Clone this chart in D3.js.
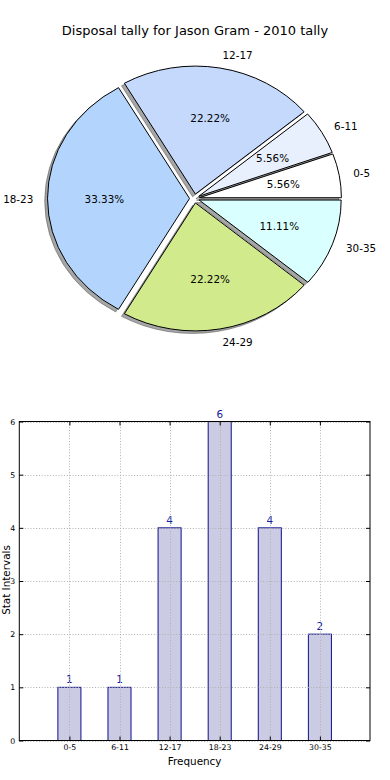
<!DOCTYPE html>
<html>
<head>
<meta charset="utf-8">
<script src="https://cdn.jsdelivr.net/npm/d3@7"></script>
<style>
  html, body { margin: 0; padding: 0; background: #fff; }
  svg { display: block; font-family: "DejaVu Sans", sans-serif; }
</style>
</head>
<body>
<svg id="chart" width="390" height="780"></svg>
<script>
// ---- data ----
const categories = ["0-5", "6-11", "12-17", "18-23", "24-29", "30-35"];
const counts = [1, 1, 4, 6, 4, 2];
const sliceColors = ["#ffffff", "#e8effd", "#c5d9fd", "#b3d5fd", "#d0ea8c", "#d9fffe"];
const yTicks = [0, 1, 2, 3, 4, 5, 6];
const titleText = "Disposal tally for Jason Gram - 2010 tally";
const xLabel = "Frequency";
const yLabel = "Stat Intervals";

(function () {
const svg = d3.select("#chart");

// ---- pie ----
const cx = 194.5, cy = 198.5, rx = 142, ry = 128, explode = 0.035, R = 100;
const total = d3.sum(counts);
const pie = d3.pie().sort(null).value(d => d)
  .startAngle(Math.PI / 2).endAngle(Math.PI / 2 - 2 * Math.PI);
const arcs = pie(counts);
const arc = d3.arc().innerRadius(0).outerRadius(R);

svg.append("text").attr("x", 195).attr("y", 30)
  .attr("text-anchor", "middle").attr("dominant-baseline", "central")
  .attr("font-size", 13).attr("fill", "#000").text(titleText);

function geo(d) {
  const a = (d.startAngle + d.endAngle) / 2;
  const s = Math.sin(a), c = -Math.cos(a);
  return { s, c, ox: explode * rx * s, oy: explode * ry * c };
}

const shadows = svg.append("g");
const wedges = svg.append("g");
const labels = svg.append("g");

arcs.forEach((d, i) => {
  const g = geo(d);
  shadows.append("path")
    .attr("d", arc(d))
    .attr("transform", `translate(${cx + g.ox - 0.02 * rx},${cy + g.oy + 0.02 * ry}) scale(${rx / R},${ry / R})`)
    .attr("fill", "#4d4d4d").attr("fill-opacity", 0.5)
    .attr("stroke", "#4d4d4d").attr("stroke-opacity", 0.5)
    .attr("vector-effect", "non-scaling-stroke").attr("stroke-width", 1);
  wedges.append("path")
    .attr("d", arc(d))
    .attr("transform", `translate(${cx + g.ox},${cy + g.oy}) scale(${rx / R},${ry / R})`)
    .attr("fill", sliceColors[i])
    .attr("stroke", "#000").attr("stroke-width", 1)
    .attr("vector-effect", "non-scaling-stroke");
  labels.append("text")
    .attr("x", cx + g.ox + 1.1 * rx * g.s)
    .attr("y", cy + g.oy + 1.1 * ry * g.c)
    .attr("text-anchor", g.s > 0 ? "start" : "end")
    .attr("dominant-baseline", "central")
    .attr("font-size", 10.4).attr("fill", "#000")
    .text(categories[i]);
  labels.append("text")
    .attr("x", cx + g.ox + 0.6 * rx * g.s)
    .attr("y", cy + g.oy + 0.6 * ry * g.c)
    .attr("text-anchor", "middle")
    .attr("dominant-baseline", "central")
    .attr("font-size", 10.4).attr("fill", "#000")
    .text((100 * counts[i] / total).toFixed(2) + "%");
});

// ---- bar chart ----
const pL = 19.3, pR = 370, pT = 421.5, pB = 740.5;
const x = d3.scalePoint().domain(categories).range([pL, pR]).padding(1);
const y = d3.scaleLinear().domain([0, 6]).range([pB, pT]);
const bw = x.step() * 0.46;

const barG = svg.append("g");
barG.selectAll("rect").data(counts).join("rect")
  .attr("x", (d, i) => x(categories[i]) - bw / 2)
  .attr("y", d => y(d))
  .attr("width", bw)
  .attr("height", d => y(0) - y(d))
  .attr("fill", "#cbcce4")
  .attr("stroke", "#10108a").attr("stroke-width", 1);

const grid = svg.append("g").attr("stroke", "#b0b0b0").attr("stroke-width", 1)
  .attr("stroke-dasharray", "1,1.8");
yTicks.forEach(t => {
  grid.append("line").attr("x1", pL).attr("x2", pR)
    .attr("y1", Math.round(y(t)) + 0.5).attr("y2", Math.round(y(t)) + 0.5);
});
categories.forEach(c => {
  grid.append("line").attr("y1", pT).attr("y2", pB)
    .attr("x1", Math.round(x(c)) + 0.5).attr("x2", Math.round(x(c)) + 0.5);
});

barG.selectAll("text.val").data(counts).join("text").attr("class", "val")
  .attr("x", (d, i) => x(categories[i]))
  .attr("y", d => y(d) - 4)
  .attr("text-anchor", "middle")
  .attr("font-size", 10.4).attr("fill", "#1a1aa0")
  .text(d => d);

const yAxis = d3.axisLeft(y).tickValues(yTicks).tickSize(-4).tickPadding(4).tickFormat(d3.format("d"));
const yg = svg.append("g").attr("transform", `translate(${pL},0)`).call(yAxis);
const yAxisR = d3.axisRight(y).tickValues(yTicks).tickSize(-4).tickFormat("");
svg.append("g").attr("transform", `translate(${pR},0)`).call(yAxisR);
const xAxis = d3.axisBottom(x).tickSize(-4).tickPadding(4);
const xg = svg.append("g").attr("transform", `translate(0,${pB})`).call(xAxis);
const xAxisT = d3.axisTop(x).tickSize(-4).tickFormat("");
svg.append("g").attr("transform", `translate(0,${pT})`).call(xAxisT);

svg.selectAll(".domain").remove();
svg.selectAll(".tick line").attr("stroke", "#000");
[yg, xg].forEach(g => g.selectAll("text")
  .attr("font-family", "DejaVu Sans, sans-serif").attr("font-size", 7.8).attr("fill", "#000"));

svg.append("rect").attr("x", pL).attr("y", pT)
  .attr("width", pR - pL).attr("height", pB - pT)
  .attr("fill", "none").attr("stroke", "#000").attr("stroke-width", 1);

svg.append("text").attr("x", (pL + pR) / 2).attr("y", 761)
  .attr("text-anchor", "middle").attr("dominant-baseline", "central")
  .attr("font-size", 10.4).attr("fill", "#000").text(xLabel);
svg.append("text").attr("transform", "translate(9.5,580) rotate(-90)")
  .attr("text-anchor", "middle")
  .attr("font-size", 10.4).attr("fill", "#000").text(yLabel);
})();
</script>
</body>
</html>
